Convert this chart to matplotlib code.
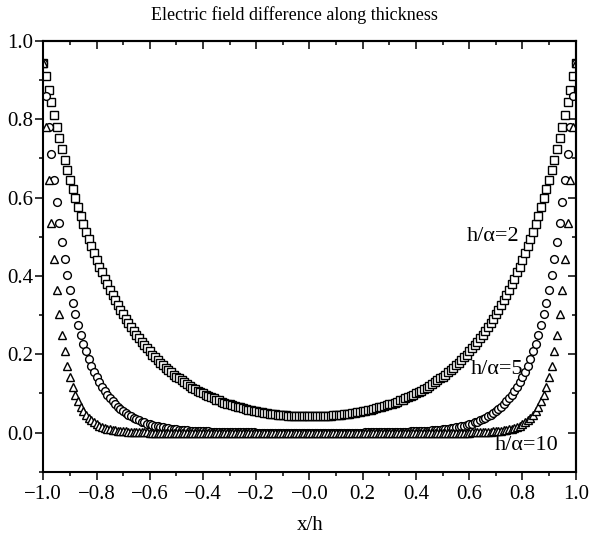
import numpy as np
import matplotlib
matplotlib.use("Agg")
import matplotlib.pyplot as plt
from matplotlib.ticker import FixedLocator, FixedFormatter, MultipleLocator

plt.rcParams['font.family'] = ['Liberation Serif', 'DejaVu Serif']

# Normalised position through the thickness
x_over_h = np.linspace(-1.0, 1.0, 201)

# Electric field difference, h/alpha = 2
diff_h2 = [
    0.945, 0.910, 0.876, 0.843, 0.811, 0.781, 0.752, 0.724, 0.696, 0.670,
    0.645, 0.621, 0.598, 0.576, 0.554, 0.533, 0.513, 0.494, 0.476, 0.458,
    0.441, 0.424, 0.409, 0.393, 0.379, 0.365, 0.351, 0.338, 0.325, 0.313,
    0.302, 0.291, 0.280, 0.269, 0.259, 0.250, 0.241, 0.232, 0.223, 0.215,
    0.207, 0.199, 0.192, 0.185, 0.178, 0.172, 0.166, 0.160, 0.154, 0.148,
    0.143, 0.138, 0.133, 0.128, 0.124, 0.119, 0.115, 0.111, 0.107, 0.104,
    0.100, 0.097, 0.093, 0.090, 0.087, 0.084, 0.082, 0.079, 0.076, 0.074,
    0.072, 0.070, 0.067, 0.065, 0.064, 0.062, 0.060, 0.058, 0.057, 0.055,
    0.054, 0.053, 0.052, 0.050, 0.049, 0.048, 0.047, 0.047, 0.046, 0.045,
    0.044, 0.044, 0.043, 0.043, 0.043, 0.042, 0.042, 0.042, 0.042, 0.041,
    0.041,
    0.041, 0.042, 0.042, 0.042, 0.042, 0.043, 0.043, 0.043, 0.044, 0.044,
    0.045, 0.046, 0.047, 0.047, 0.048, 0.049, 0.050, 0.052, 0.053, 0.054,
    0.055, 0.057, 0.058, 0.060, 0.062, 0.064, 0.065, 0.067, 0.070, 0.072,
    0.074, 0.076, 0.079, 0.082, 0.084, 0.087, 0.090, 0.093, 0.097, 0.100,
    0.104, 0.107, 0.111, 0.115, 0.119, 0.124, 0.128, 0.133, 0.138, 0.143,
    0.148, 0.154, 0.160, 0.166, 0.172, 0.178, 0.185, 0.192, 0.199, 0.207,
    0.215, 0.223, 0.232, 0.241, 0.250, 0.259, 0.269, 0.280, 0.291, 0.302,
    0.313, 0.325, 0.338, 0.351, 0.365, 0.379, 0.393, 0.409, 0.424, 0.441,
    0.458, 0.476, 0.494, 0.513, 0.533, 0.554, 0.576, 0.598, 0.621, 0.645,
    0.670, 0.696, 0.724, 0.752, 0.781, 0.811, 0.843, 0.876, 0.910, 0.945,
]

# Electric field difference, h/alpha = 5
diff_h5 = [
    0.945, 0.859, 0.781, 0.711, 0.646, 0.588, 0.534, 0.486, 0.442, 0.402,
    0.365, 0.332, 0.302, 0.275, 0.250, 0.227, 0.207, 0.188, 0.171, 0.155,
    0.141, 0.129, 0.117, 0.106, 0.097, 0.088, 0.080, 0.073, 0.066, 0.060,
    0.055, 0.050, 0.045, 0.041, 0.037, 0.034, 0.031, 0.028, 0.026, 0.023,
    0.021, 0.019, 0.017, 0.016, 0.014, 0.013, 0.012, 0.011, 0.010, 0.009,
    0.008, 0.007, 0.007, 0.006, 0.006, 0.005, 0.005, 0.004, 0.004, 0.003,
    0.003, 0.003, 0.003, 0.002, 0.002, 0.002, 0.002, 0.002, 0.001, 0.001,
    0.001, 0.001, 0.001, 0.001, 0.001, 0.001, 0.001, 0.001, 0.001, 0.001,
    0.000, 0.000, 0.000, 0.000, 0.000, 0.000, 0.000, 0.000, 0.000, 0.000,
    0.000, 0.000, 0.000, 0.000, 0.000, 0.000, 0.000, 0.000, 0.000, 0.000,
    0.000,
    0.000, 0.000, 0.000, 0.000, 0.000, 0.000, 0.000, 0.000, 0.000, 0.000,
    0.000, 0.000, 0.000, 0.000, 0.000, 0.000, 0.000, 0.000, 0.000, 0.000,
    0.001, 0.001, 0.001, 0.001, 0.001, 0.001, 0.001, 0.001, 0.001, 0.001,
    0.001, 0.001, 0.002, 0.002, 0.002, 0.002, 0.002, 0.003, 0.003, 0.003,
    0.003, 0.004, 0.004, 0.005, 0.005, 0.006, 0.006, 0.007, 0.007, 0.008,
    0.009, 0.010, 0.011, 0.012, 0.013, 0.014, 0.016, 0.017, 0.019, 0.021,
    0.023, 0.026, 0.028, 0.031, 0.034, 0.037, 0.041, 0.045, 0.050, 0.055,
    0.060, 0.066, 0.073, 0.080, 0.088, 0.097, 0.106, 0.117, 0.129, 0.141,
    0.155, 0.171, 0.188, 0.207, 0.227, 0.250, 0.275, 0.302, 0.332, 0.365,
    0.402, 0.442, 0.486, 0.534, 0.588, 0.646, 0.711, 0.781, 0.859, 0.945,
]

# Electric field difference, h/alpha = 10
diff_h10 = [
    0.945, 0.781, 0.646, 0.534, 0.442, 0.365, 0.302, 0.250, 0.207, 0.171,
    0.141, 0.117, 0.097, 0.080, 0.066, 0.055, 0.045, 0.037, 0.031, 0.026,
    0.021, 0.017, 0.014, 0.012, 0.010, 0.008, 0.007, 0.006, 0.005, 0.004,
    0.003, 0.003, 0.002, 0.002, 0.001, 0.001, 0.001, 0.001, 0.001, 0.001,
    0.000, 0.000, 0.000, 0.000, 0.000, 0.000, 0.000, 0.000, 0.000, 0.000,
    0.000, 0.000, 0.000, 0.000, 0.000, 0.000, 0.000, 0.000, 0.000, 0.000,
    0.000, 0.000, 0.000, 0.000, 0.000, 0.000, 0.000, 0.000, 0.000, 0.000,
    0.000, 0.000, 0.000, 0.000, 0.000, 0.000, 0.000, 0.000, 0.000, 0.000,
    0.000, 0.000, 0.000, 0.000, 0.000, 0.000, 0.000, 0.000, 0.000, 0.000,
    0.000, 0.000, 0.000, 0.000, 0.000, 0.000, 0.000, 0.000, 0.000, 0.000,
    0.000,
    0.000, 0.000, 0.000, 0.000, 0.000, 0.000, 0.000, 0.000, 0.000, 0.000,
    0.000, 0.000, 0.000, 0.000, 0.000, 0.000, 0.000, 0.000, 0.000, 0.000,
    0.000, 0.000, 0.000, 0.000, 0.000, 0.000, 0.000, 0.000, 0.000, 0.000,
    0.000, 0.000, 0.000, 0.000, 0.000, 0.000, 0.000, 0.000, 0.000, 0.000,
    0.000, 0.000, 0.000, 0.000, 0.000, 0.000, 0.000, 0.000, 0.000, 0.000,
    0.000, 0.000, 0.000, 0.000, 0.000, 0.000, 0.000, 0.000, 0.000, 0.000,
    0.001, 0.001, 0.001, 0.001, 0.001, 0.001, 0.002, 0.002, 0.003, 0.003,
    0.004, 0.005, 0.006, 0.007, 0.008, 0.010, 0.012, 0.014, 0.017, 0.021,
    0.026, 0.031, 0.037, 0.045, 0.055, 0.066, 0.080, 0.097, 0.117, 0.141,
    0.171, 0.207, 0.250, 0.302, 0.365, 0.442, 0.534, 0.646, 0.781, 0.945,
]

series_labels = ["h/\u03b1=2", "h/\u03b1=5", "h/\u03b1=10"]
x_tick_values = [-1.0, -0.8, -0.6, -0.4, -0.2, 0.0, 0.2, 0.4, 0.6, 0.8, 1.0]
x_tick_labels = ["\u22121.0", "\u22120.8", "\u22120.6", "\u22120.4", "\u22120.2",
                 "\u22120.0", "0.2", "0.4", "0.6", "0.8", "1.0"]
y_tick_values = [0.0, 0.2, 0.4, 0.6, 0.8, 1.0]
y_tick_labels = ["0.0", "0.2", "0.4", "0.6", "0.8", "1.0"]

fig = plt.figure(figsize=(5.89, 5.39), dpi=100)
ax = fig.add_axes([0.0735, 0.1249, 0.9039, 0.799])

marker_style = dict(linestyle="none", markerfacecolor="white",
                    markeredgecolor="black", markeredgewidth=1.0, clip_on=True)
ax.plot(x_over_h, diff_h2, marker="s", markersize=5.4, **marker_style)
ax.plot(x_over_h, diff_h5, marker="o", markersize=5.6, **marker_style)
ax.plot(x_over_h, diff_h10, marker="^", markersize=5.8, **marker_style)

ax.set_xlim(-1.0, 1.0)
ax.set_ylim(-0.1, 1.0)

ax.xaxis.set_major_locator(FixedLocator(x_tick_values))
ax.xaxis.set_major_formatter(FixedFormatter(x_tick_labels))
ax.yaxis.set_major_locator(FixedLocator(y_tick_values))
ax.yaxis.set_major_formatter(FixedFormatter(y_tick_labels))
ax.xaxis.set_minor_locator(MultipleLocator(0.1))
ax.yaxis.set_minor_locator(MultipleLocator(0.1))

for sp in ax.spines.values():
    sp.set_linewidth(1.5)

ax.tick_params(which="both", direction="out", width=1.1, labelsize=15,
               top=False, right=False)
ax.tick_params(which="major", length=5.8)
ax.tick_params(which="minor", length=2.9)
ax.tick_params(axis="x", pad=3.5)
ax.tick_params(axis="y", pad=1.5)

# mirrored ticks on top and right, pointing inward
top = ax.secondary_xaxis("top")
top.xaxis.set_major_locator(FixedLocator(x_tick_values))
top.xaxis.set_minor_locator(MultipleLocator(0.1))
top.tick_params(which="both", direction="in", width=1.1, labeltop=False)
top.tick_params(which="major", length=5.8)
top.tick_params(which="minor", length=2.9)
top.spines["top"].set_linewidth(1.5)

right = ax.secondary_yaxis("right")
right.yaxis.set_major_locator(FixedLocator(y_tick_values))
right.yaxis.set_minor_locator(MultipleLocator(0.1))
right.tick_params(which="both", direction="in", width=1.1, labelright=False)
right.tick_params(which="major", length=5.8)
right.tick_params(which="minor", length=2.9)
right.spines["right"].set_linewidth(1.5)

ax.text(0.592, 0.490, series_labels[0], fontsize=16, ha="left", va="baseline")
ax.text(0.607, 0.150, series_labels[1], fontsize=16, ha="left", va="baseline")
ax.text(0.697, -0.045, series_labels[2], fontsize=16, ha="left", va="baseline")

fig.text(0.526, 0.0158, "x/h", fontsize=15, ha="center", va="baseline")
fig.text(0.5, 0.963, "Electric field difference along thickness",
         fontsize=13, ha="center", va="baseline")

fig.savefig("out.png", dpi=100)
